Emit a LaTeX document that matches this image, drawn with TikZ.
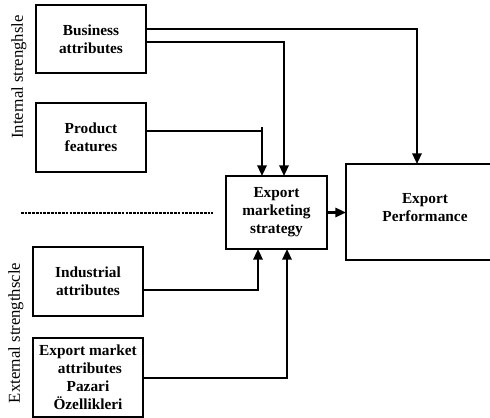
\documentclass[tikz,border=0pt]{standalone}
\usepackage{fontspec}
\setmainfont{Liberation Serif}
\usetikzlibrary{arrows.meta,calc}
\begin{document}
\begin{tikzpicture}[x=0.75pt,y=-0.75pt,
  box/.style={draw,line width=1.8pt,inner sep=0pt,outer sep=0pt,align=center,
    font=\fontsize{11.5}{13.5}\selectfont\bfseries},
  conn/.style={line width=1.6pt},
  arr/.style={conn,-{Triangle[width=7pt,length=8pt]}},
  side/.style={rotate=90,font=\fontsize{12.5}{14}\selectfont},
]
\useasboundingbox (0,0) rectangle (490,418);
\clip (0,0) rectangle (490,418);
\node[box,minimum width=82.5pt,minimum height=51pt] (bus) at (91,39) {Business\\attributes};
\node[box,minimum width=82.5pt,minimum height=51.75pt] (prod) at (91,137.5) {Product\\features};
\node[box,minimum width=75.75pt,minimum height=54.75pt] (strat) at (276.5,212.5) {Export\\marketing\\strategy};
\node[box,minimum width=118.5pt,minimum height=72pt] (perf) at (425,212) {};
\node[box,draw=none] (perftext) at ([yshift=3.5pt]perf.center) {Export\\Performance};
\node[box,minimum width=82.5pt,minimum height=51.75pt] (ind) at (88,281.5) {Industrial\\attributes};
\node[box,minimum width=82.5pt,minimum height=59.25pt] (mkt) at (88,377.5) {Export market\\\ attributes\\Pazari\\Özellikleri};
\node[side] (int) at (19,77) {Internal strenghsle};
\node[side] (ext) at (16,333) {External strengthscle};
\coordinate (d1) at (21,213);
\coordinate (d2) at (213,213);
\draw[line width=1.3pt,dash pattern=on 2pt off 0.8pt] (d1) -- (d2);
\draw[arr] ([yshift=7.5pt]bus.east) -| ([xshift=-6pt]perf.north);
\draw[arr] ([yshift=-2.25pt]bus.east) -| ([xshift=5.625pt]strat.north);
\draw[arr] ([yshift=4.875pt]prod.east) -| ([xshift=-10.875pt]strat.north);
\draw[conn] ([xshift=-10.875pt,yshift=33.75pt]strat.north) -- ([xshift=-10.875pt,yshift=36.75pt]strat.north);
\draw[arr] (strat.east) -- (strat.east -| perf.west);
\draw[arr] ([yshift=-6.375pt]ind.east) -| ([xshift=-13.875pt]strat.south);
\draw[arr] ([yshift=-0.375pt]mkt.east) -| ([xshift=7.875pt]strat.south);
\end{tikzpicture}
\end{document}
